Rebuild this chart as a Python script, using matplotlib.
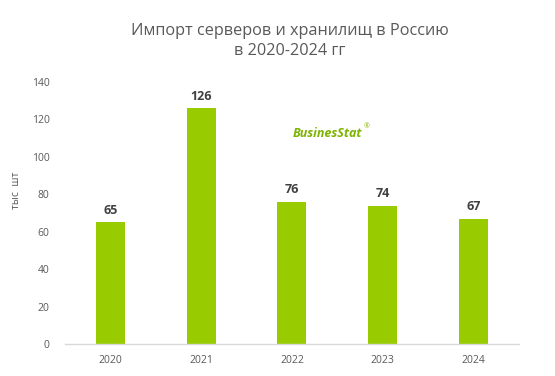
import numpy as np
import matplotlib.pyplot as plt

years = ['2020', '2021', '2022', '2023', '2024']
values = [65, 126, 76, 74, 67]
yticks = [0, 20, 40, 60, 80, 100, 120, 140]

plt.rcParams['font.family'] = ['Open Sans', 'DejaVu Sans']

fig = plt.figure(figsize=(5.55, 3.76), dpi=100)
ax = fig.add_axes([0.117, 0.085, 0.818, 0.697])

x = np.arange(len(years))
ax.bar(x, values, width=0.32, color='#99CC00', zorder=2)

for xi, v in zip(x, values):
    ax.text(xi, v + 3, str(v), ha='center', va='bottom', fontsize=9,
            fontweight='bold', color='#404040')

ax.set_xlim(-0.5, len(years) - 0.5)
ax.set_ylim(0, 140)
ax.set_xticks(x)
ax.set_xticklabels(years)
ax.set_yticks(yticks)
ax.tick_params(axis='both', length=0, labelsize=7.5, colors='#595959')
ax.tick_params(axis='x', pad=8)
ax.tick_params(axis='y', pad=11)

for s in ['top', 'right', 'left']:
    ax.spines[s].set_visible(False)
ax.spines['bottom'].set_color('#D9D9D9')
ax.spines['bottom'].set_linewidth(1)

ax.set_ylabel('тыс  шт', fontsize=7.5, color='#595959')
ax.yaxis.set_label_coords(-0.095, 0.588)

fig.text(0.522, 0.891, 'Импорт серверов и хранилищ в Россию\nв 2020-2024 гг',
         ha='center', va='center', fontsize=11.7, color='#595959',
         linespacing=1.35)

# логотип
fig.text(0.527, 0.645, 'BusinesStat', ha='left', va='center', fontsize=9,
         fontweight='bold', fontstyle='italic', color='#7DB400')
fig.text(0.655, 0.662, '®', fontsize=5, color='#7DB400', ha='left', va='center')

plt.savefig('out.png', dpi=100)
